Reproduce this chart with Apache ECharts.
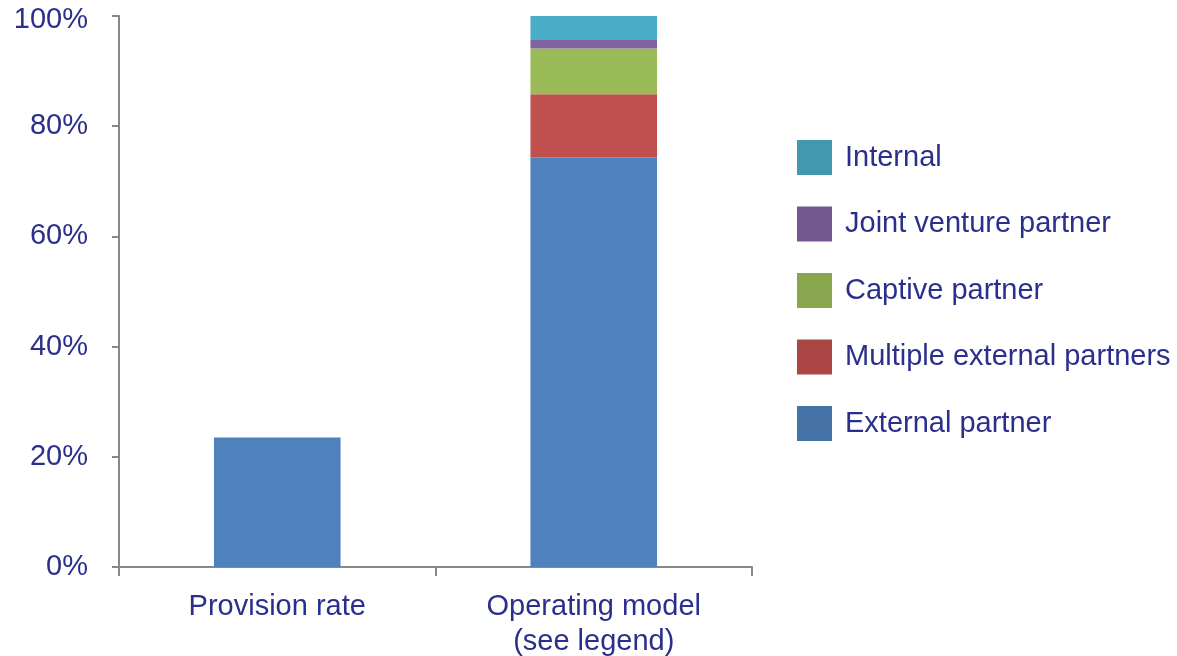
<!DOCTYPE html>
<html>
<head>
<meta charset="utf-8">
<script src="https://cdn.jsdelivr.net/npm/echarts@6/dist/echarts.min.js"></script>
<style>
  html, body { margin: 0; padding: 0; background: #fff; }
  #chart { width: 1177px; height: 656px; }
</style>
</head>
<body>
<div id="chart"></div>
<script>
// categories and values (percent)
var categories = ['Provision rate', 'Operating model\n(see legend)'];
var provisionRate = [23.5, '-'];
var externalPartner = ['-', 74.3];
var multipleExternal = ['-', 11.5];
var captivePartner = ['-', 8.3];
var jointVenture = ['-', 1.7];
var internal = ['-', 4.2];
var yTicks = [0, 20, 40, 60, 80, 100];

var textColor = '#2B2F8C';
var axisColor = '#888888';
var font = 'Liberation Sans, Arial, sans-serif';

var chart = echarts.init(document.getElementById('chart'));

function bar(name, data, color) {
  return {
    name: name,
    type: 'bar',
    stack: 'total',
    data: data,
    barWidth: '40%',
    itemStyle: { color: color },
    emphasis: { disabled: true }
  };
}

chart.setOption({
  animation: false,
  grid: { left: 119, right: 425, top: 16, bottom: 89, outerBoundsMode: 'none' },
  legend: {
    orient: 'vertical',
    left: 797,
    top: 140,
    padding: 0,
    itemWidth: 35,
    itemHeight: 35,
    itemGap: 31.5,
    selectedMode: false,
    icon: 'rect',
    textStyle: { color: textColor, fontSize: 29, fontFamily: font, padding: [0, 0, 0, 8] },
    data: [
      { name: 'Internal', itemStyle: { color: '#4198AF' } },
      { name: 'Joint venture partner', itemStyle: { color: '#71588F' } },
      { name: 'Captive partner', itemStyle: { color: '#89A54E' } },
      { name: 'Multiple external partners', itemStyle: { color: '#AA4643' } },
      { name: 'External partner', itemStyle: { color: '#4572A7' } }
    ]
  },
  xAxis: {
    type: 'category',
    data: categories,
    axisLine: { lineStyle: { color: axisColor, width: 2 } },
    axisTick: { show: true, length: 9, lineStyle: { color: axisColor, width: 2 } },
    axisLabel: {
      color: textColor, fontSize: 29, fontFamily: font,
      margin: 22, lineHeight: 35
    }
  },
  yAxis: {
    type: 'value',
    min: yTicks[0],
    max: yTicks[yTicks.length - 1],
    interval: 20,
    splitLine: { show: false },
    axisLine: { show: true, lineStyle: { color: axisColor, width: 2 } },
    axisTick: { show: true, length: 7, lineStyle: { color: axisColor, width: 2 } },
    axisLabel: {
      color: textColor, fontSize: 29, fontFamily: font, margin: 31,
      // top label sits a little lower in the original
      formatter: function (v) {
        return v === yTicks[yTicks.length - 1] ? '{top|' + v + '%}' : v + '%';
      },
      rich: {
        top: { color: textColor, fontSize: 29, fontFamily: font, padding: [8, 0, 0, 0] }
      }
    }
  },
  series: [
    bar('Provision rate', provisionRate, '#4F81BD'),
    bar('External partner', externalPartner, '#4F81BD'),
    bar('Multiple external partners', multipleExternal, '#C0504D'),
    bar('Captive partner', captivePartner, '#9BBB59'),
    bar('Joint venture partner', jointVenture, '#8064A2'),
    bar('Internal', internal, '#4BACC6')
  ]
});
</script>
</body>
</html>
